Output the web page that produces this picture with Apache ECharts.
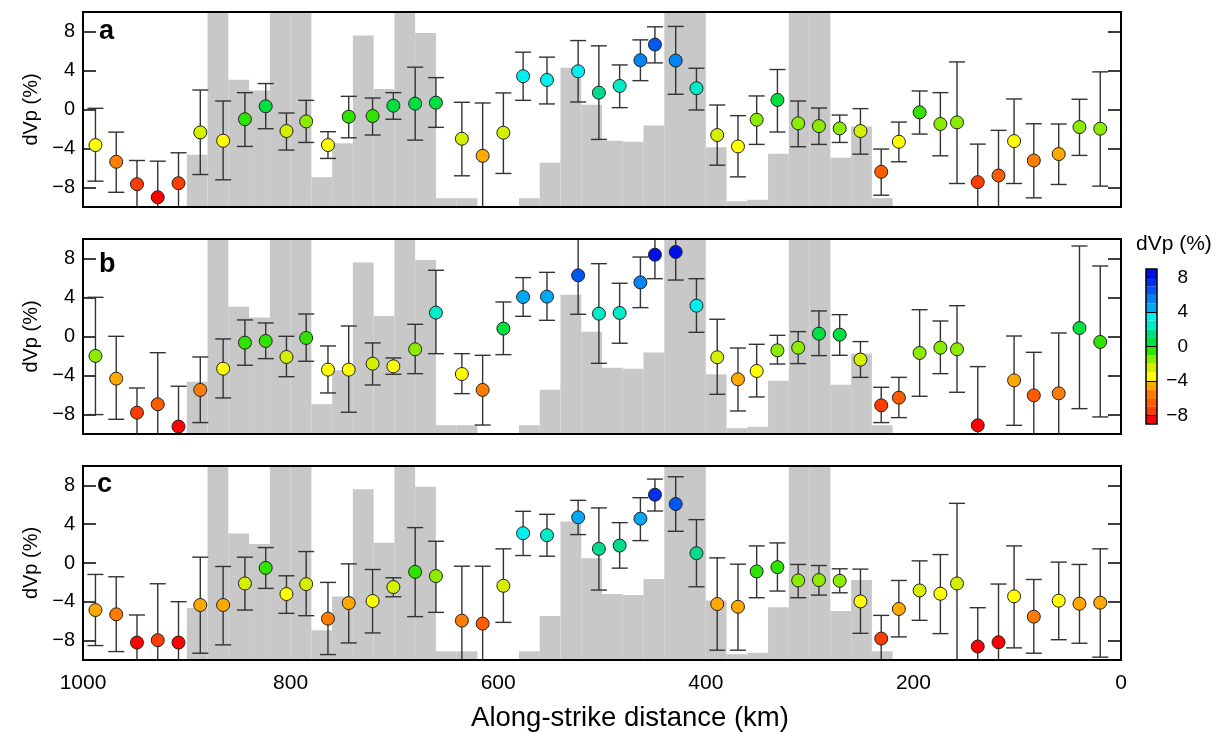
<!DOCTYPE html>
<html>
<head>
<meta charset="utf-8">
<script src="https://cdn.jsdelivr.net/npm/echarts@6/dist/echarts.min.js"></script>
<style>
  html, body { margin: 0; padding: 0; background: #fff; }
  #chart { width: 1226px; height: 733px; }
</style>
</head>
<body>
<div id="chart"></div>
<script>
// Along-strike positions of the measurement points (km)
const distanceKm = [988, 968, 948, 928, 908, 887, 865, 844, 824, 804, 785, 764, 744, 721, 701, 680, 660,
  635, 615, 595, 576, 553, 523, 503, 483, 463, 449, 429, 409, 389, 369, 351, 331, 311, 291, 271, 251,
  231, 214, 194, 174, 158, 138, 118, 103, 84, 60, 40, 20];

// Panel a: dVp (%) with upper / lower error limits
const dvpA = [-3.65, -5.36, -7.66, -9.0, -7.56, -2.35, -3.2, -1.0, 0.33, -2.21, -1.22, -3.65, -0.74, -0.67, 0.39, 0.6, 0.7,
  -3.0, -4.75, -2.38, 3.41, 3.03, 3.92, 1.73, 2.42, 5.05, 6.66, 5.02, 2.18, -2.62, -3.79, -1.05, 0.98, -1.42, -1.7, -1.94, -2.21,
  -6.39, -3.31, -0.29, -1.49, -1.32, -7.45, -6.77, -3.24, -5.23, -4.57, -1.8, -1.97];
const dvpAHigh = [0.12, -2.32, -5.23, -5.3, -4.44, 2.0, 0.87, 1.73, 2.66, -0.36, 0.94, -2.28, 1.35, 1.18, 1.73, 4.34, 3.27,
  0.74, 0.67, 1.7, 5.88, 5.37, 7.07, 6.53, 4.57, 7.14, 8.48, 8.52, 4.23, 0.46, -0.63, 1.39, 4.1, 0.87, 0.15, -0.57, 0.09,
  -4.06, -1.29, 1.9, 1.73, 4.88, -3.55, -2.14, 1.08, -1.46, -1.49, 1.05, 3.86];
const dvpALow = [-7.35, -8.49, -11, -11, -11, -6.67, -7.21, -3.79, -1.97, -4.16, -3.38, -5.02, -2.9, -2.62, -1.0, -3.14, -1.83,
  -6.8, -11, -6.56, 0.94, 0.57, 0.77, -3.07, 0.19, 2.96, 4.78, 1.56, -0.05, -5.71, -6.91, -3.58, -2.31, -3.82, -3.58, -3.38, -4.58,
  -8.79, -5.36, -2.52, -4.75, -7.59, -11, -11, -7.59, -9.06, -7.69, -4.71, -7.86];

// Panel b (no value at 118 km)
const dvpB = [-1.99, -4.32, -7.81, -6.95, -9.24, -5.48, -3.3, -0.63, -0.46, -2.1, -0.15, -3.4, -3.4, -2.79, -3.06, -1.31, 2.45,
  -3.85, -5.48, 0.81, 4.05, 4.09, 6.27, 2.34, 2.41, 5.55, 8.39, 8.67, 3.16, -2.13, -4.39, -3.54, -1.42, -1.15, 0.29, 0.19, -2.37,
  -7.06, -6.27, -1.69, -1.15, -1.31, -9.11, null, -4.5, -6.04, -5.83, 0.87, -0.56];
const dvpBHigh = [4.02, 0.02, -5.28, -1.66, -5.1, -2.1, -0.25, 1.7, 1.39, 0.02, 2.31, -0.97, 1.08, -0.66, -2.2, 1.25, 6.79,
  -1.76, -1.93, 3.54, 6.04, 6.58, 11, 7.47, 5.46, 8.15, 11, 11, 5.93, 1.77, -1.18, -0.8, 0.12, 0.5, 2.62, 2.24, -0.52,
  -5.21, -4.19, 2.75, 1.59, 3.16, -3.09, null, 0.05, -1.62, 0.36, 9.28, 7.23];
const dvpBLow = [-8.01, -8.49, -11, -11, -11, -8.83, -6.3, -2.95, -2.27, -4.12, -2.54, -5.79, -7.77, -4.97, -3.88, -3.81, -1.76,
  -5.86, -9.08, -1.86, 2.07, 1.66, 2.28, -2.75, -0.69, 2.96, 5.93, 5.79, 0.43, -5.93, -7.64, -6.2, -2.82, -2.78, -1.96, -1.93, -4.19,
  -8.83, -8.32, -6.13, -3.81, -5.72, -11, null, -9.11, -11, -11, -7.4, -8.25];

// Panel c
const dvpC = [-4.85, -5.29, -8.2, -7.96, -8.2, -4.33, -4.33, -2.11, -0.5, -3.2, -2.18, -5.74, -4.13, -3.92, -2.48, -0.91, -1.35,
  -5.94, -6.25, -2.35, 3.07, 2.86, 4.71, 1.46, 1.8, 4.57, 7.04, 6.08, 1.01, -4.23, -4.51, -0.87, -0.43, -1.8, -1.76, -1.83, -3.96,
  -7.79, -4.74, -2.83, -3.17, -2.11, -8.61, -8.17, -3.44, -5.53, -3.89, -4.2, -4.09];
const dvpCHigh = [-1.18, -1.42, -5.36, -2.14, -3.99, 0.6, -0.36, 0.6, 1.59, -1.32, 1.18, -2.0, -0.09, -0.67, -1.52, 3.65, 2.24,
  -0.33, -0.33, 1.46, 5.33, 5.02, 6.46, 5.68, 4.16, 6.73, 8.65, 8.89, 4.47, 0.53, -0.12, 1.76, 2.07, -0.15, -0.26, -0.6, -0.63,
  -5.4, -1.8, 0.22, 0.87, 6.15, -4.61, -2.17, 1.76, -1.7, 0.09, -0.15, 1.46];
const dvpCLow = [-8.51, -9.13, -11, -11, -11, -9.3, -8.44, -4.85, -2.62, -5.19, -5.43, -9.44, -8.24, -7.21, -3.48, -5.53, -5.09,
  -11, -11, -6.12, 0.77, 0.7, 2.93, -2.79, -0.53, 2.31, 5.36, 3.27, -2.45, -8.99, -8.99, -3.58, -2.89, -3.58, -3.31, -3.07, -7.25,
  -11, -7.62, -5.91, -7.28, -11, -11, -11, -8.75, -9.3, -7.91, -8.27, -9.71];

// Background step profile: upper km edge of each 20-km bin and its top value
const binUpperKm = [900, 880, 860, 840, 820, 800, 780, 760, 740, 720, 700, 680, 660, 640, 580, 560, 540, 520, 500, 480,
  460, 440, 420, 400, 380, 360, 340, 320, 300, 280, 260, 240];
const binTop = [-4.65, 12, 3.05, 1.95, 12, 12, -6.94, -3.45, 7.6, 2.1, 12, 7.85, -9.1, -9.1, -9.1, -5.47, 4.27, 0.5, -3.2, -3.3,
  -1.65, 12, 12, -3.87, -9.4, -9.26, -4.55, 12, 12, -4.96, -1.74, -9.1];
const binWidthKm = 20;

// Axis ticks
const yTicks = [-8, -4, 0, 4, 8];
const panelLetters = ['a', 'b', 'c'];

// Colour scale: 1 % steps from -9 to 9
const levelEdges = [-9, -8, -7, -6, -5, -4, -3, -2, -1, 0, 1, 2, 3, 4, 5, 6, 7, 8, 9];
const levelColors = ['#ff0000', '#ff3c00', '#ff5c00', '#ff7c00', '#ffa800', '#ffff00', '#d4f000', '#8cec00', '#30e400',
  '#00e040', '#00dc8c', '#00ecc8', '#00f0f0', '#00a8f4', '#0086f4', '#0058f0', '#0030ee', '#0010e6'];

const FONT = '"Liberation Sans", Arial, Helvetica, sans-serif';
const Y_MIN = -10, Y_MAX = 10;

const grids = [
  { left: 83, top: 12, width: 1038, height: 195 },
  { left: 83, top: 239, width: 1038, height: 195 },
  { left: 83, top: 466, width: 1038, height: 194 }
];
const panels = [
  [dvpA, dvpAHigh, dvpALow],
  [dvpB, dvpBHigh, dvpBLow],
  [dvpC, dvpCHigh, dvpCLow]
];

const minus = v => String(v).replace('-', '\u2212');
const tickStyle = { color: '#000', width: 1.5 };

const option = {
  animation: false,
  backgroundColor: '#fff',
  textStyle: { fontFamily: FONT, color: '#000' },
  grid: [],
  xAxis: [],
  yAxis: [],
  series: [],
  graphic: []
};

grids.forEach((g, i) => {
  option.grid.push(Object.assign({ show: true, borderColor: '#000', borderWidth: 2, z: 10, backgroundColor: 'transparent' }, g));
  option.xAxis.push({
    gridIndex: i, type: 'value', min: 0, max: 1000, interval: 200, inverse: true,
    axisLine: { show: false, onZero: false }, axisTick: { show: false }, splitLine: { show: false },
    axisLabel: { show: i === 2, fontSize: 21, color: '#000', margin: 13, fontFamily: FONT, formatter: v => String(v) },
    name: i === 2 ? 'Along-strike distance (km)' : '',
    nameLocation: 'middle', nameGap: 44,
    nameTextStyle: { fontSize: 27.5, color: '#000', fontFamily: FONT, padding: [0, 0, 0, 56] }
  });
});
// left value axes
grids.forEach((g, i) => {
  option.yAxis.push({
    gridIndex: i, type: 'value', min: Y_MIN, max: Y_MAX, position: 'left',
    axisLine: { show: false, onZero: false }, splitLine: { show: false },
    axisTick: { show: true, inside: true, length: 13, customValues: yTicks, lineStyle: tickStyle },
    axisLabel: { show: true, customValues: yTicks, fontSize: 20, color: '#000', margin: 8, formatter: minus, fontFamily: FONT },
    name: 'dVp (%)', nameLocation: 'middle', nameGap: 42,
    nameTextStyle: { fontSize: 20, color: '#000', fontFamily: FONT }
  });
});
// right axes (ticks only)
grids.forEach((g, i) => {
  option.yAxis.push({
    gridIndex: i, type: 'value', min: Y_MIN, max: Y_MAX, position: 'right',
    axisLine: { show: false, onZero: false }, splitLine: { show: false },
    axisTick: { show: true, inside: true, length: 13, customValues: yTicks, lineStyle: tickStyle },
    axisLabel: { show: false }
  });
});

// colour bar
option.grid.push({ left: 1146, top: 269, width: 11, height: 155, show: true, borderColor: '#000', borderWidth: 1.5, z: 10, backgroundColor: 'transparent' });
option.xAxis.push({ gridIndex: 3, type: 'value', min: 0, max: 1, show: false, axisLine: { onZero: false } });
option.yAxis.push({
  gridIndex: 3, type: 'value', min: -9, max: 9, position: 'right', z: 12,
  axisLine: { show: false, onZero: false }, splitLine: { show: false },
  axisTick: { show: true, inside: true, length: 11, customValues: yTicks, lineStyle: { color: '#000', width: 1 } },
  axisLabel: { show: true, customValues: yTicks, fontSize: 19, color: '#000', margin: 31, align: 'right', formatter: minus, fontFamily: FONT }
});

function renderBin(params, api) {
  const a = api.coord([api.value(0), api.value(2)]);
  const b = api.coord([api.value(1), Y_MIN]);
  return {
    type: 'rect',
    shape: { x: Math.min(a[0], b[0]), y: a[1], width: Math.abs(b[0] - a[0]), height: b[1] - a[1] },
    style: { fill: '#c8c8c8' }
  };
}

function renderErrorBar(params, api) {
  const x = api.value(0);
  const hi = api.coord([x, api.value(2)]);
  const lo = api.coord([x, api.value(3)]);
  const hw = 8;
  const style = { stroke: '#333', lineWidth: 1.4, fill: null };
  return {
    type: 'group',
    children: [
      { type: 'line', shape: { x1: hi[0], y1: hi[1], x2: lo[0], y2: lo[1] }, style },
      { type: 'line', shape: { x1: hi[0] - hw, y1: hi[1], x2: hi[0] + hw, y2: hi[1] }, style },
      { type: 'line', shape: { x1: lo[0] - hw, y1: lo[1], x2: lo[0] + hw, y2: lo[1] }, style }
    ]
  };
}

const binData = binUpperKm.map((k, i) => [k, k - binWidthKm, binTop[i]]);
const colorSeries = [];

panels.forEach((p, i) => {
  const [vals, highs, lows] = p;
  const pts = [];
  distanceKm.forEach((k, j) => {
    if (vals[j] !== null) pts.push([k, vals[j], highs[j], lows[j]]);
  });
  option.series.push({
    type: 'custom', xAxisIndex: i, yAxisIndex: i, clip: true, z: 1, silent: true,
    renderItem: renderBin, data: binData
  });
  option.series.push({
    type: 'custom', xAxisIndex: i, yAxisIndex: i, clip: true, z: 3, silent: true,
    renderItem: renderErrorBar, data: pts
  });
  colorSeries.push(option.series.length);
  option.series.push({
    type: 'scatter', xAxisIndex: i, yAxisIndex: i, clip: false, z: 4,
    symbol: 'circle', symbolSize: 13,
    itemStyle: { borderColor: '#222', borderWidth: 1, opacity: 1 },
    data: pts.map(d => [d[0], d[1]])
  });
});

// colour bar blocks
const barData = levelColors.map((c, i) => [0.5, (levelEdges[i] + levelEdges[i + 1]) / 2, levelEdges[i], levelEdges[i + 1]]);
colorSeries.push(option.series.length);
option.series.push({
  type: 'custom', xAxisIndex: 3, yAxisIndex: 6, z: 2, silent: true,
  renderItem: (params, api) => {
    const a = api.coord([0, api.value(3)]);
    const b = api.coord([1, api.value(2)]);
    return { type: 'rect', shape: { x: a[0], y: a[1], width: b[0] - a[0], height: b[1] - a[1] }, style: { fill: api.visual('color') } };
  },
  data: barData
});

const pieces = levelColors.map((c, i) => {
  const piece = { color: c };
  if (i > 0) piece.gte = levelEdges[i];
  if (i < levelColors.length - 1) piece.lt = levelEdges[i + 1];
  return piece;
});
option.visualMap = { type: 'piecewise', show: false, dimension: 1, seriesIndex: colorSeries, pieces };

// panel letters and colour-bar title
const letterTops = [18, 251, 471];
const letterLefts = [99, 99, 97];
panelLetters.forEach((t, i) => {
  option.graphic.push({
    type: 'text', left: letterLefts[i], top: letterTops[i], z: 20,
    style: { text: t, font: 'bold 27px ' + FONT, fill: '#000' }
  });
});
option.graphic.push({
  type: 'text', left: 1136, top: 234, z: 20,
  style: { text: 'dVp (%)', font: '21px ' + FONT, fill: '#000' }
});

const chart = echarts.init(document.getElementById('chart'), null, { renderer: 'canvas' });
chart.setOption(option);
</script>
</body>
</html>
